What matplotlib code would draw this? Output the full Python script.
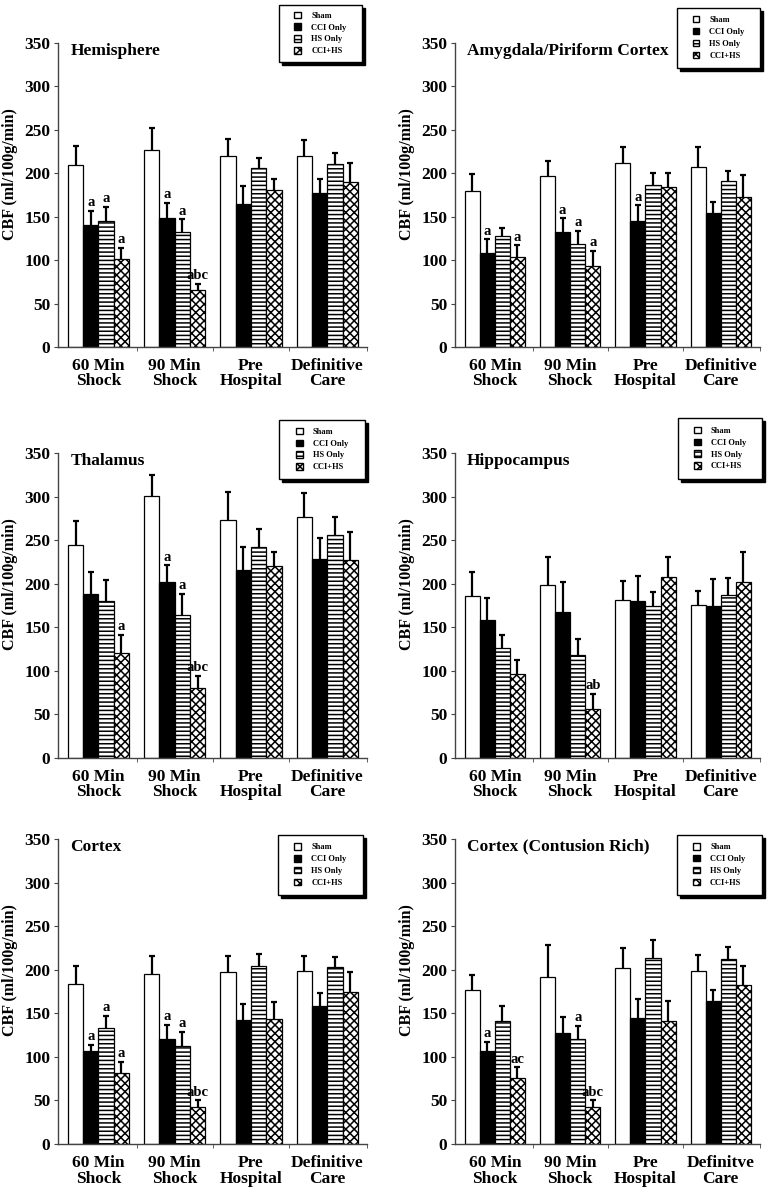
import numpy as np
import matplotlib
matplotlib.use("Agg")
from matplotlib import pyplot as plt
from matplotlib.patches import Patch, Rectangle
from matplotlib import transforms

plt.rcParams['font.family'] = ['Liberation Serif', 'DejaVu Serif']
plt.rcParams['font.weight'] = 'bold'
plt.rcParams['hatch.linewidth'] = 1.1

groups = ["60 Min\nShock", "90 Min\nShock", "Pre\nHospital", "Definitive\nCare"]
groups_typo = ["60 Min\nShock", "90 Min\nShock", "Pre\nHospital", "Definitve\nCare"]
series = ["Sham", "CCI Only", "HS Only", "CCI+HS"]
titles = ["Hemisphere", "Amygdala/Piriform Cortex", "Thalamus",
          "Hippocampus", "Cortex", "Cortex (Contusion Rich)"]

# means (Sham, CCI Only, HS Only, CCI+HS) and upper error bars
hemi_mean = [[210, 227, 220, 220], [140, 149, 165, 177], [145, 132, 206, 211], [101, 66, 181, 190]]
hemi_err = [[21, 25, 19, 18], [17, 17, 20, 16], [16, 15, 12, 12], [13, 7, 12, 22]]
amyg_mean = [[179, 197, 212, 207], [108, 132, 145, 154], [128, 119, 186, 191], [103, 93, 184, 173]]
amyg_err = [[20, 17, 18, 23], [16, 16, 18, 13], [9, 15, 14, 12], [14, 18, 16, 25]]
thal_mean = [[245, 301, 273, 277], [188, 202, 216, 228], [180, 164, 242, 256], [120, 80, 220, 227]]
thal_err = [[27, 24, 32, 27], [26, 19, 26, 24], [24, 24, 21, 21], [21, 14, 16, 32]]
hipp_mean = [[186, 199, 181, 175], [158, 168, 180, 174], [126, 118, 174, 187], [96, 56, 208, 202]]
hipp_err = [[28, 32, 22, 17], [26, 34, 29, 31], [15, 19, 16, 19], [17, 18, 23, 34]]
ctx_mean = [[184, 195, 198, 199], [107, 120, 142, 159], [133, 112, 204, 203], [82, 43, 143, 174]]
ctx_err = [[20, 21, 18, 17], [7, 17, 19, 14], [14, 17, 14, 12], [12, 7, 20, 23]]
rich_mean = [[177, 192, 202, 199], [107, 127, 145, 164], [141, 120, 214, 212], [76, 42, 141, 182]]
rich_err = [[17, 37, 23, 18], [10, 19, 21, 13], [17, 16, 20, 14], [12, 8, 23, 22]]

# significance letters: (group, series, text)
hemi_sig = [(0, 1, "a"), (0, 2, "a"), (0, 3, "a"), (1, 1, "a"), (1, 2, "a"), (1, 3, "abc")]
amyg_sig = [(0, 1, "a"), (0, 3, "a"), (1, 1, "a"), (1, 2, "a"), (1, 3, "a"), (2, 1, "a")]
thal_sig = [(0, 3, "a"), (1, 1, "a"), (1, 2, "a"), (1, 3, "abc")]
hipp_sig = [(1, 3, "ab")]
ctx_sig = [(0, 1, "a"), (0, 2, "a"), (0, 3, "a"), (1, 1, "a"), (1, 2, "a"), (1, 3, "abc")]
rich_sig = [(0, 1, "a"), (0, 3, "ac"), (1, 2, "a"), (1, 3, "abc")]

faces = ["white", "black", "white", "white"]
hatches = [None, None, "----", "xxxx"]

axes_pos = [[0.0755, 0.7082, 0.4023, 0.2557], [0.5924, 0.7082, 0.3971, 0.2557],
            [0.0755, 0.3625, 0.4023, 0.2565], [0.5924, 0.3625, 0.3971, 0.2565],
            [0.0755, 0.0378, 0.4023, 0.2565], [0.5924, 0.0378, 0.3971, 0.2565]]
legend_box = [[0.715, 0.9375, 0.269, 0.1875], [0.728, 0.917, 0.272, 0.199],
              [0.714, 0.915, 0.28, 0.193], [0.73, 0.914, 0.277, 0.201],
              [0.712, 0.816, 0.275, 0.197], [0.727, 0.817, 0.28, 0.196]]


def draw_panel(fig, pos, box, title, means, errs, sigs, labels):
    ax = fig.add_axes(pos)
    x = np.arange(len(labels))
    w = 0.2
    for i in range(4):
        xs = x + (i - 1.5) * w
        ax.bar(xs, means[i], w, color=faces[i], edgecolor="black", linewidth=0.9,
               hatch=hatches[i], zorder=2)
        eb = ax.errorbar(xs, means[i], yerr=[np.zeros(4), errs[i]], fmt="none",
                         ecolor="black", elinewidth=1.6, capsize=2.5, capthick=1.6, zorder=3)
        eb[1][0].set_visible(False)
    for g, s, txt in sigs:
        xx = x[g] + (s - 1.5) * w
        ax.text(xx, means[s][g] + errs[s][g] + 2, txt, ha="center", va="bottom",
                fontsize=10.5, fontweight="bold")
    ax.set_xlim(-0.53, 3.52)
    ax.set_ylim(0, 350)
    ax.set_yticks(np.arange(0, 351, 50))
    ax.set_xticks(x)
    ax.set_xticklabels(labels, fontsize=12.5, fontweight="bold", linespacing=0.95)
    ax.tick_params(axis="x", length=0, pad=8)
    ax.set_xticks([0.5, 1.5, 2.5, 3.52], minor=True)
    ax.tick_params(axis="x", which="minor", length=3, direction="out", color="#444444")
    ax.tick_params(axis="y", labelsize=12.5, length=3, pad=2.5, direction="out", color="#444444")
    for lab in ax.get_yticklabels():
        lab.set_fontweight("bold")
    for side in ["top", "right"]:
        ax.spines[side].set_visible(False)
    for side in ["left", "bottom"]:
        ax.spines[side].set_color("#444444")
        ax.spines[side].set_linewidth(1.0)
    ax.set_ylabel("CBF (ml/100g/min)", fontsize=11.5, fontweight="bold")
    ax.yaxis.set_label_coords(-0.13, 0.57)
    ax.text(0.04, 0.975, title, transform=ax.transAxes, ha="left", va="center",
            fontsize=12.5, fontweight="bold")

    # legend box with a black drop shadow
    bx, by, bw, bh = box
    shadow_tr = transforms.offset_copy(ax.transAxes, fig=fig, x=3, y=-3, units="dots")
    ax.add_patch(Rectangle((bx, by), bw, bh, transform=shadow_tr, facecolor="black",
                           edgecolor="black", clip_on=False, zorder=5))
    ax.add_patch(Rectangle((bx, by), bw, bh, transform=ax.transAxes, facecolor="white",
                           edgecolor="black", linewidth=1.0, clip_on=False, zorder=6))
    handles = [Patch(facecolor=faces[i], edgecolor="black", hatch=hatches[i], label=series[i])
               for i in range(4)]
    leg = ax.legend(handles=handles, loc="center", bbox_to_anchor=(bx, by, bw, bh),
                    frameon=False, fontsize=6, handlelength=0.8, handleheight=0.8,
                    handletextpad=1.2, labelspacing=0.45, borderpad=0.3)
    leg.set_zorder(7)
    for t in leg.get_texts():
        t.set_fontweight("bold")
    return ax


fig = plt.figure(figsize=(7.68, 11.89), dpi=100)
panel_means = [hemi_mean, amyg_mean, thal_mean, hipp_mean, ctx_mean, rich_mean]
panel_errs = [hemi_err, amyg_err, thal_err, hipp_err, ctx_err, rich_err]
panel_sigs = [hemi_sig, amyg_sig, thal_sig, hipp_sig, ctx_sig, rich_sig]
for k in range(6):
    labels = groups_typo if k == 5 else groups
    draw_panel(fig, axes_pos[k], legend_box[k], titles[k], panel_means[k],
               panel_errs[k], panel_sigs[k], labels)

fig.savefig("out.png", dpi=100)
